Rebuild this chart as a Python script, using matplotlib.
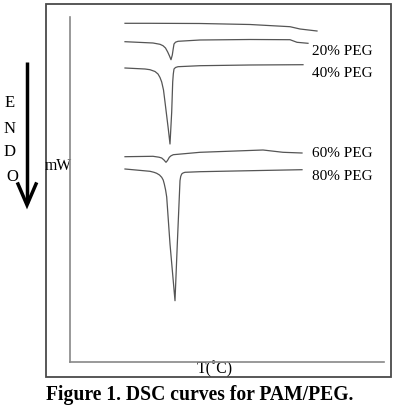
import matplotlib
matplotlib.use("Agg")
import matplotlib.pyplot as plt
from matplotlib.patches import Rectangle

plt.rcParams['font.family'] = ['Liberation Serif', 'DejaVu Serif']

# ---- data (arbitrary temperature units vs heat flow) ----
T_base = [55, 80, 130, 180, 220, 230, 247]
hf_base = [-6.3, -6.3, -6.5, -7.5, -9.7, -12, -14]

T_20 = [55, 83, 90, 93, 95.5, 97.7, 99.5, 101, 102.3, 103.2, 104, 105.5, 108, 130, 180,
        220, 227, 238]
hf_20 = [-24.7, -26, -27.3, -28.7, -31, -35, -39, -42.7, -38, -32, -27, -25.2, -24.3,
         -23, -22.5, -22.7, -25.3, -26.3]

T_40 = [55, 75, 80, 85, 88, 90, 91.7, 93.5, 95, 98.3, 100, 101.7, 102.7, 103.3, 104,
        105.5, 108, 130, 180, 233]
hf_40 = [-51, -52, -52.7, -54.5, -57, -60.5, -65, -73, -85, -112, -127, -95, -65, -57,
         -52, -50.5, -49.7, -48.7, -48, -47.7]

T_60 = [55, 83, 89, 91.7, 94, 96, 97.5, 99.3, 101, 103.3, 130, 193, 213, 232]
hf_60 = [-139.7, -139.3, -140.2, -141, -143, -145.3, -143.5, -140.3, -138.8, -137.7,
         -135.3, -133, -135.3, -136]

T_80 = [55, 80, 84, 86.7, 89.5, 91.7, 93.2, 94.3, 95.6, 96.7, 100, 105, 107.3, 109.3, 110,
        110.7, 111.7, 113, 115, 130, 180, 232]
hf_80 = [-152, -154.3, -155.3, -156.3, -158, -160.3, -163, -167, -173, -180, -227, -283.7,
         -227, -180, -163.7, -159.5, -157, -156, -155.3, -154.7, -153.7, -152.7]

labels = ["20% PEG", "40% PEG", "60% PEG", "80% PEG"]
label_T = 241.7
label_hf = [-37, -58.7, -139.3, -162]

W, H = 396, 414
fig = plt.figure(figsize=(W / 100, H / 100), dpi=100)

# overlay in pixel coordinates for frame / annotations
ov = fig.add_axes([0, 0, 1, 1])
ov.set_xlim(0, W)
ov.set_ylim(H, 0)
ov.axis('off')
ov.add_patch(Rectangle((46, 5), 345, 373, fill=False, ec='#4a4a4a', lw=1.3))
ov.plot([27, 27], [63, 204], color='black', lw=2.5, solid_capstyle='butt')
ov.plot([18, 27, 36], [185, 206, 185], color='black', lw=2.5, solid_joinstyle='miter')
for ch, yb in zip("ENDO", [106.7, 133.3, 156, 181]):
    ov.text(10 if ch != 'O' else 12.5, yb, ch, ha='center', va='baseline', fontsize=12)
ov.text(45, 170, "mW", ha='left', va='baseline', fontsize=11.3)
ov.text(215, 373.5, "T(\u02daC)", ha='center', va='baseline', fontsize=11.3)
ov.text(200, 400, "Figure 1. DSC curves for PAM/PEG.", ha='center', va='baseline',
        fontsize=14.1, fontweight='bold')

# main axes
ax = fig.add_axes([70 / W, (H - 362.5) / H, (384 - 70) / W, (362.5 - 18) / H])
ax.patch.set_alpha(0)
ax.set_xlim(0, 314)
ax.set_ylim(-344.5, 0)
for s in ['top', 'right']:
    ax.spines[s].set_visible(False)
for s in ['left', 'bottom']:
    ax.spines[s].set_color('#888888')
    ax.spines[s].set_linewidth(1.2)
ax.set_xticks([])
ax.set_yticks([])

lc = '#555555'
for T, hf in [(T_base, hf_base), (T_20, hf_20), (T_40, hf_40), (T_60, hf_60), (T_80, hf_80)]:
    ax.plot(T, hf, color=lc, lw=0.9)
for lab, yb in zip(labels, label_hf):
    ax.text(label_T, yb, lab, ha='left', va='baseline', fontsize=11, clip_on=False)

fig.savefig("out.png", dpi=100)
